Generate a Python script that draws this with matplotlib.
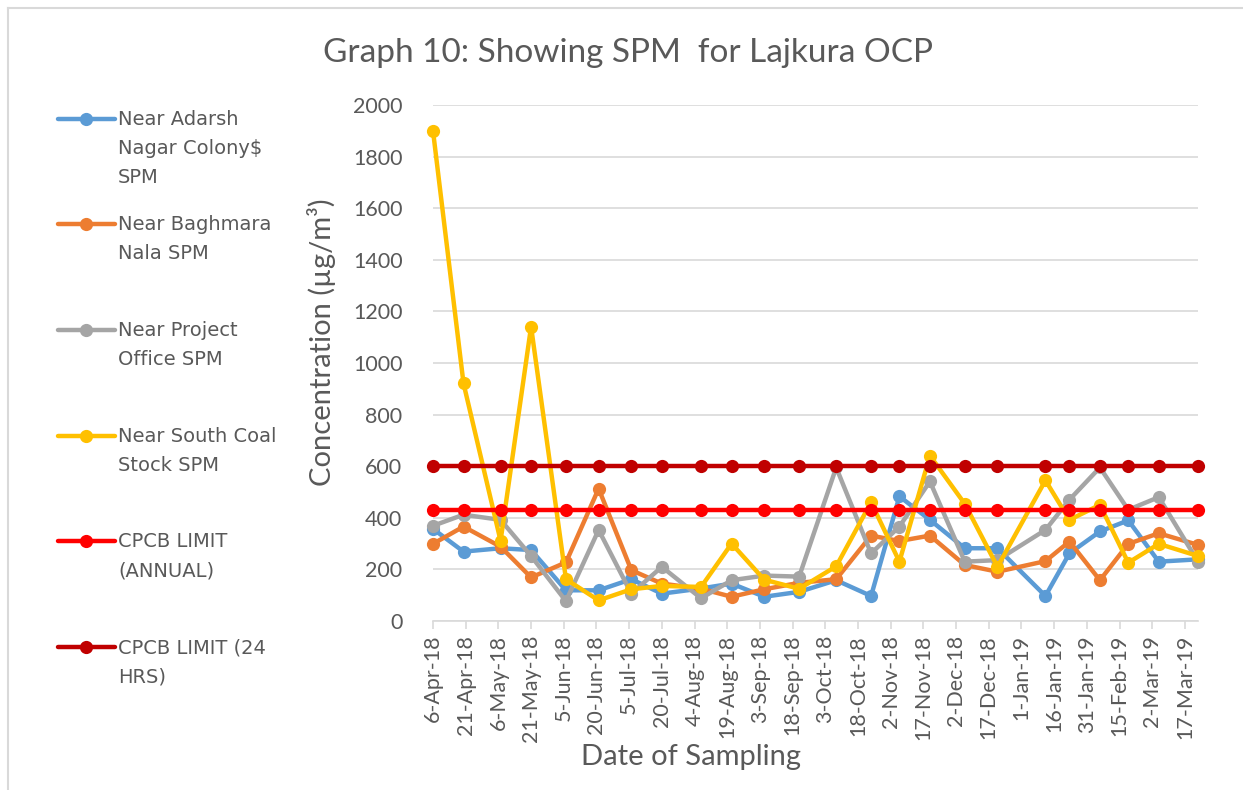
import datetime as dt

import matplotlib
matplotlib.use("Agg")
import matplotlib.dates as mdates
import matplotlib.pyplot as plt
from matplotlib.lines import Line2D

sample_dates = [
    "2018-04-06", "2018-04-20", "2018-05-07", "2018-05-21", "2018-06-06", "2018-06-21",
    "2018-07-06", "2018-07-20", "2018-08-07", "2018-08-21", "2018-09-05", "2018-09-21",
    "2018-10-08", "2018-10-24", "2018-11-06", "2018-11-20", "2018-12-06", "2018-12-21",
    "2019-01-12", "2019-01-23", "2019-02-06", "2019-02-19", "2019-03-05", "2019-03-23",
]

adarsh_nagar = [357, 269, 282, 275, 119, 119, 162, 106, 126, 145, 94, 113,
                158, 97, 483, 392, 282, 282, 97, 262, 347, 390, 230, 239]
baghmara_nala = [299, 366, 288, 169, 227, 513, 197, 145, 125, 94, 123, 148,
                 162, 331, 310, 331, 217, 191, 232, 308, 158, 299, 340, 295]
project_office = [369, 412, 392, 252, 77, 353, 106, 210, 88, 158, 176, 172,
                  595, 262, 366, 541, 230, 236, 353, 470, 595, 431, 480, 230]
south_coal = [1900, 921, 311, 1141, 162, 80, 123, 136, 132, 300, 160, 125,
              212, 460, 230, 641, 454, 210, 545, 392, 450, 226, 299, 252]
cpcb_annual = [430] * len(sample_dates)
cpcb_24hrs = [600] * len(sample_dates)

series_labels = [
    "Near Adarsh\nNagar Colony$\nSPM",
    "Near Baghmara\nNala SPM",
    "Near Project\nOffice SPM",
    "Near South Coal\nStock SPM",
    "CPCB LIMIT\n(ANNUAL)",
    "CPCB LIMIT (24\nHRS)",
]
series_colors = ["#5B9BD5", "#ED7D31", "#A5A5A5", "#FFC000", "#FF0000", "#C00000"]

TEXT = "#595959"
GRID = "#D9D9D9"

dates = [dt.datetime.strptime(d, "%Y-%m-%d") for d in sample_dates]
all_series = [adarsh_nagar, baghmara_nala, project_office, south_coal, cpcb_annual, cpcb_24hrs]

W, H = 1243, 790
fig = plt.figure(figsize=(W / 100, H / 100), dpi=100, facecolor="white")
ax = fig.add_axes([433 / W, 1 - 621 / H, (1198 - 433) / W, (621 - 105) / H])

for values, color in zip(all_series, series_colors):
    ax.plot(dates, values, color=color, linewidth=3.2, marker="o", markersize=9.5,
            markeredgewidth=0, solid_capstyle="round", clip_on=False, zorder=3)

# Axes styling (Excel look)
ax.set_ylim(0, 2000)
ax.set_yticks(range(0, 2001, 200))
ax.set_xlim(dates[0], dates[-1])
tick_dates = []
t = dates[0]
while t <= dates[-1]:
    tick_dates.append(t)
    t += dt.timedelta(days=15)
ax.set_xticks(tick_dates)
ax.xaxis.set_major_formatter(mdates.DateFormatter("%-d-%b-%y"))

ax.grid(axis="y", color=GRID, linewidth=1.2, zorder=0)
ax.set_axisbelow(True)
for side in ["top", "right", "left"]:
    ax.spines[side].set_visible(False)
ax.spines["bottom"].set_color(GRID)
ax.spines["bottom"].set_linewidth(1.2)
ax.tick_params(axis="x", colors=GRID, length=6, width=1.2, labelcolor=TEXT,
               labelsize=15.5, rotation=90, pad=4)
ax.tick_params(axis="y", length=0, labelcolor=TEXT, labelsize=15.5, pad=22)
for lbl in ax.get_xticklabels() + ax.get_yticklabels():
    lbl.set_fontfamily("Lato")

# Axis titles (placed where Excel puts them)
fig.text(321 / W, 1 - 342 / H, "Concentration (µg/m³)", rotation=90, ha="center",
         va="center", fontsize=21, color=TEXT, family="Lato")
fig.text(691 / W, 1 - 757 / H, "Date of Sampling", ha="center", va="center",
         fontsize=21, color=TEXT, family="Lato")

fig.text(628 / W, 1 - 53 / H, "Graph 10: Showing SPM  for Lajkura OCP", ha="center",
         va="center", fontsize=24, color=TEXT, family="Lato")

# Legend on the left side, drawn manually to match the Excel layout
legend_y = [119, 224, 330, 436, 541, 647]
for label, color, y in zip(series_labels, series_colors, legend_y):
    fy = 1 - y / H
    fig.add_artist(Line2D([58 / W, 115 / W], [fy, fy], color=color, linewidth=3.2,
                          solid_capstyle="round", transform=fig.transFigure))
    fig.add_artist(Line2D([86 / W], [fy], color=color, marker="o", markersize=9.5,
                          markeredgewidth=0, transform=fig.transFigure))
    fig.text(118 / W, fy + 9 / H, label, ha="left", va="top", fontsize=14, color=TEXT,
             family="DejaVu Sans", linespacing=1.68)

# Chart border (only top and left visible in the crop)
fig.add_artist(Line2D([8 / W, 8 / W], [0, 1 - 8 / H], color=GRID, linewidth=1.5,
                      transform=fig.transFigure))
fig.add_artist(Line2D([8 / W, 1], [1 - 8 / H, 1 - 8 / H], color=GRID, linewidth=1.5,
                      transform=fig.transFigure))

fig.savefig("out.png", dpi=100, facecolor="white")
